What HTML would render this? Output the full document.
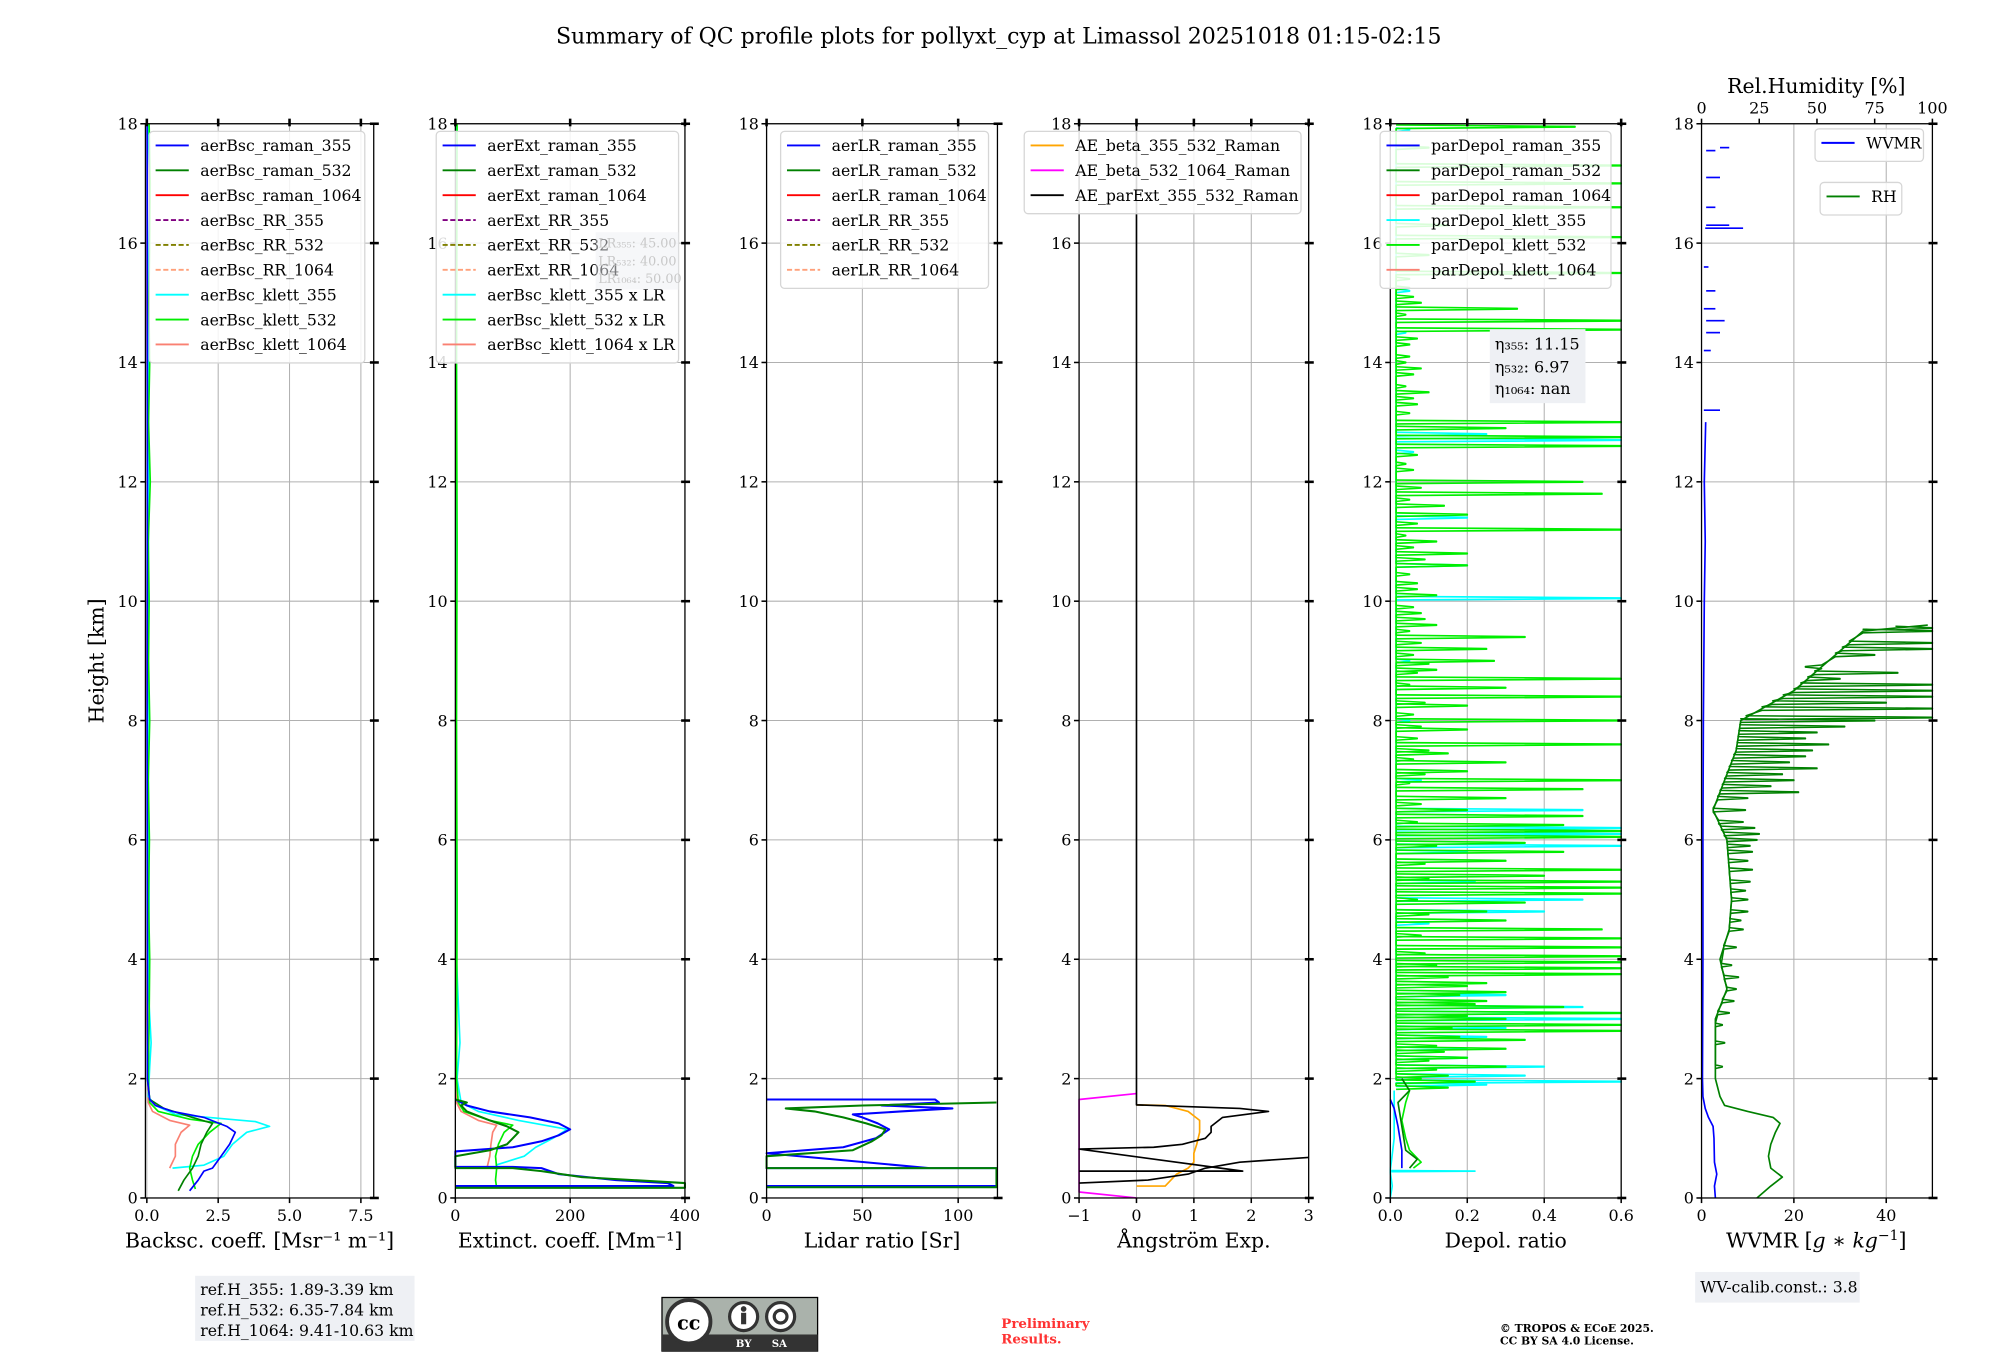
<!DOCTYPE html>
<html><head><meta charset="utf-8">
<style>
html,body{margin:0;padding:0;background:#fff;}
svg{display:block;}
text{font-family:"DejaVu Serif","Liberation Serif",serif;}
</style></head>
<body>
<svg id="fig" xmlns="http://www.w3.org/2000/svg" width="2000" height="1360" viewBox="0 0 1568 1066" preserveAspectRatio="none">
<rect x="0" y="0" width="1568" height="1066" fill="#fff"/>
<text x="783" y="34" font-size="17.3" text-anchor="middle">Summary of QC profile plots for pollyxt_cyp at Limassol 20251018 01:15-02:15</text>
<text x="0" y="0" font-size="16" text-anchor="middle" transform="translate(81,518) rotate(-90)">Height [km]</text>
<g id="plots"></g>

<g>
<rect x="153" y="1000" width="172" height="51" fill="#eef0f4"/>
<text x="157" y="1015" font-size="12.3">ref.H_355: 1.89-3.39 km</text>
<text x="157" y="1031" font-size="12.3">ref.H_532: 6.35-7.84 km</text>
<text x="157" y="1047" font-size="12.3">ref.H_1064: 9.41-10.63 km</text>
</g>
<g>
<rect x="519" y="1017" width="122" height="42" fill="#aab2ab" stroke="#000" stroke-width="1"/>
<rect x="519" y="1046" width="122" height="13" fill="#333"/>
<circle cx="540" cy="1036" r="17" fill="#fff" stroke="#333" stroke-width="3"/>
<text x="540" y="1042" font-size="15" font-weight="bold" text-anchor="middle" font-family="Liberation Sans">cc</text>
<circle cx="583" cy="1032" r="11" fill="#fff" stroke="#333" stroke-width="2.5"/>
<circle cx="583" cy="1026" r="2.2" fill="#333"/>
<rect x="581" y="1029" width="4" height="9" fill="#333"/>
<circle cx="612" cy="1032" r="11" fill="#fff" stroke="#333" stroke-width="2.5"/>
<circle cx="612" cy="1032" r="5" fill="none" stroke="#333" stroke-width="2.5"/>
<text x="583" y="1056" font-size="8" fill="#fff" text-anchor="middle" font-family="Liberation Sans" font-weight="bold">BY</text>
<text x="611" y="1056" font-size="8" fill="#fff" text-anchor="middle" font-family="Liberation Sans" font-weight="bold">SA</text>
</g>
<text x="785" y="1041" font-size="10.5" font-weight="bold" fill="#ff3333">Preliminary</text>
<text x="785" y="1053" font-size="10.5" font-weight="bold" fill="#ff3333">Results.</text>
<text x="1176" y="1044" font-size="8.5" font-weight="bold">© TROPOS &amp; ECoE 2025.</text>
<text x="1176" y="1054" font-size="8.5" font-weight="bold">CC BY SA 4.0 License.</text>
<g>
<rect x="1329" y="997" width="129" height="24" fill="#eef0f4"/>
<text x="1333" y="1013" font-size="12.3">WV-calib.const.: 3.8</text>
</g>
</svg>
<script>
// ---------- data ----------
const yTicks = [0,2,4,6,8,10,12,14,16,18];
// Panel 1 backscatter
const bscRaman355H = [0.12,0.3,0.45,0.5,0.7,0.9,1.1,1.2,1.35,1.45,1.55,1.65,2.0,4.0,8.0,12.0,18.0];
const bscRaman355V = [1.5,1.8,2.0,2.3,2.6,2.9,3.1,2.8,2.0,0.9,0.3,0.1,0.02,0.02,0.01,0.02,0.01];
const bscRaman532H = [0.12,0.3,0.5,0.7,0.9,1.1,1.25,1.35,1.5,1.65,2.0];
const bscRaman532V = [1.1,1.3,1.6,1.8,1.9,2.1,2.3,1.6,0.6,0.1,0.02];
const bscKlett355H = [0.5,0.55,0.7,0.9,1.1,1.2,1.28,1.4,1.55,1.7,2.2,2.6,3.5,5,8,12,15,17,18];
const bscKlett355V = [0.9,2.0,2.7,3.0,3.5,4.3,3.8,1.0,0.3,0.05,0.1,0.15,0.05,0.08,0.04,0.06,0.05,0.1,0.05];
const bscKlett532H = [0.15,0.3,0.5,0.7,0.9,1.1,1.25,1.32,1.45,1.6,2,3,4,5,6,7,8,9,10,11,12,13,14,15,16,17,18];
const bscKlett532V = [1.7,1.6,1.5,1.6,1.8,2.2,2.6,1.5,0.4,0.1,0.05,0.08,0.1,0.06,0.09,0.05,0.1,0.06,0.08,0.05,0.12,0.06,0.1,0.07,0.1,0.12,0.08];
const bscKlett1064H = [0.5,0.7,0.9,1.1,1.22,1.3,1.45,1.6,3,6,9,12,15,18];
const bscKlett1064V = [0.8,1.0,1.0,1.2,1.5,0.8,0.2,0.05,0.0,0.03,0.0,0.03,0.0,0.02];
// Panel 2 extinction
const extRaman355H = [0.2,0.2,0.25,0.3,0.35,0.4,0.5,0.52,0.52,0.78,0.85,0.95,1.05,1.15,1.25,1.35,1.45,1.55,1.65];
const extRaman355V = [0,380,370,280,230,180,150,100,0,0,100,150,180,200,180,130,60,20,0];
const extRaman532H = [0.17,0.17,0.25,0.35,0.45,0.5,0.5,0.7,0.8,0.9,1.0,1.1,1.2,1.3,1.45,1.55,1.6,1.65];
const extRaman532V = [0,400,400,220,150,100,0,0,60,90,100,110,90,60,20,10,20,0];
const extKlett355H = [0.55,0.7,0.85,1.0,1.15,1.3,1.45,1.6,2.0,2.6,4,8,12,18];
const extKlett355V = [70,120,140,170,195,110,40,10,3,8,2,1,2,1];
const extKlett532H = [0.17,0.3,0.5,0.7,0.9,1.1,1.22,1.3,1.45,1.6,2,5,8,11,14,18];
const extKlett532V = [72,70,72,70,75,85,100,60,15,5,2,3,2,3,2,3];
const extKlett1064H = [0.5,0.7,0.9,1.1,1.22,1.3,1.45,1.6,2];
const extKlett1064V = [55,60,62,65,72,40,10,2,0];
// Panel 3 lidar ratio
const lrRaman355H = [0.2,0.2,0.5,0.5,0.5,0.75,0.85,1.0,1.15,1.25,1.35,1.4,1.45,1.5,1.55,1.6,1.65,1.65];
const lrRaman355V = [0,120,120,0,85,0,40,57,64,58,50,45,70,97,60,90,88,0];
const lrRaman532H = [0.18,0.18,0.4,0.5,0.5,0.7,0.8,0.95,1.05,1.15,1.25,1.35,1.45,1.5,1.55,1.6];
const lrRaman532V = [0,120,120,120,0,0,45,55,60,62,52,40,25,10,50,120];
// Panel 4 Angstrom
const aeBsc355532H = [0.2,0.2,0.3,0.4,0.5,0.6,0.75,0.9,1.1,1.3,1.45,1.55,1.56];
const aeBsc355532V = [0,0.5,0.6,0.7,0.9,1.0,1.0,1.05,1.1,1.1,0.9,0.5,0];
const aeBsc5321064H = [0,0.1,1.65,1.75];
const aeBsc5321064V = [0,-1,-1,0];
const aeExtH = [0.25,0.3,0.4,0.5,0.6,0.68,0.68,0.45,0.45,0.82,0.85,0.9,1.0,1.1,1.2,1.35,1.45,1.5,1.56,18];
const aeExtV = [-1,0.2,0.9,1.2,1.8,3,null,-1,1.85,-1,0.3,0.8,1.2,1.3,1.3,1.5,2.3,1.8,0,0];
// Panel 5 depol
const dpRaman355H = [0.5,0.8,1.2,1.5,1.65];
const dpRaman355V = [0.03,0.03,0.02,0.01,0.0];
const dpRaman532H = [0.5,0.65,0.8,1.2,1.6,1.8,2.0];
const dpRaman532V = [0.05,0.07,0.04,0.03,0.02,0.05,0.03];
const dpKlett532LowH = [0.5,0.6,0.8,1.0,1.3,1.6,1.8];
const dpKlett532LowV = [0.06,0.08,0.05,0.04,0.03,0.04,0.05];
const dpKlett532SpikeH = [17.95,17.6,17.3,17.0,16.6,16.3,16.1,15.8,15.5,15.25,15.0,14.9,14.7,14.55,14.3,14.0,13.8,13.5,13.3,13.0,12.9,12.75,12.6,12.3,12.0,11.8,11.6,11.45,11.2,11.0,10.8,10.6,10.3,10.1,9.8,9.6,9.4,9.2,9.0,8.85,8.7,8.55,8.4,8.25,8.0,7.85,7.6,7.45,7.3,7.15,7.0,6.85,6.7,6.5,6.4,6.25,6.15,6.05,5.95,5.8,5.65,5.5,5.4,5.3,5.2,5.1,4.95,4.8,4.65,4.5,4.35,4.2,4.05,3.95,3.85,3.75,3.6,3.45,3.3,3.2,3.1,3.0,2.9,2.8,2.65,2.5,2.35,2.2,2.05,1.95,1.85];
const dpKlett532SpikeV = [0.48,0.1,0.6,0.6,0.6,0.15,0.6,0.1,0.6,0.05,0.08,0.33,0.6,0.6,0.05,0.04,0.06,0.1,0.07,0.6,0.3,0.6,0.6,0.04,0.5,0.55,0.14,0.2,0.6,0.12,0.2,0.2,0.07,0.12,0.08,0.12,0.35,0.25,0.27,0.12,0.6,0.3,0.6,0.2,0.6,0.2,0.6,0.15,0.3,0.2,0.6,0.5,0.3,0.2,0.5,0.45,0.6,0.6,0.35,0.45,0.3,0.6,0.4,0.6,0.6,0.6,0.35,0.25,0.3,0.55,0.6,0.6,0.6,0.6,0.6,0.6,0.25,0.3,0.25,0.45,0.6,0.3,0.6,0.6,0.35,0.3,0.2,0.3,0.15,0.22,0.15];
const dpKlett532NoiseH = [15.4,15.1,14.8,14.4,14.1,13.9,13.6,13.4,13.15,12.45,12.2,11.9,11.7,11.3,11.1,10.9,10.7,10.45,10.2,9.9,9.7,9.5,9.3,9.1,8.95,8.8,8.6,8.3,8.1,7.9,7.7,7.5,7.35,7.1,6.95,6.6,6.3,5.9,5.6,5.35,5.0,4.75,4.4,4.1,3.9,3.7,3.55,3.4,3.25,3.05,2.85,2.7,2.55,2.45,2.3,2.15,2.0];
const dpKlett532NoiseV = [0.05,0.06,0.04,0.07,0.05,0.08,0.04,0.06,0.05,0.07,0.06,0.08,0.05,0.07,0.04,0.06,0.09,0.05,0.07,0.06,0.09,0.05,0.08,0.06,0.1,0.07,0.05,0.09,0.06,0.08,0.07,0.1,0.06,0.09,0.05,0.08,0.07,0.12,0.09,0.1,0.07,0.1,0.08,0.09,0.12,0.15,0.2,0.18,0.22,0.2,0.16,0.18,0.12,0.14,0.1,0.12,0.08];
const dpKlett355LowH = [0.0,0.2,0.44,0.45,0.46,1.0,1.8];
const dpKlett355LowV = [0.0,0.005,0.0,0.22,0.0,0.01,0.01];
const dpKlett355SpikeH = [17.9,15.2,14.5,12.8,12.7,12.5,11.4,10.6,10.05,9.0,8.0,7.0,6.5,6.2,6.1,5.9,5.8,5.3,5.0,4.8,4.6,3.4,3.2,3.1,3.0,2.85,2.7,2.5,2.35,2.2,2.05,1.95,1.9];
const dpKlett355SpikeV = [0.05,0.05,0.04,0.25,0.6,0.06,0.2,0.2,0.6,0.05,0.05,0.08,0.5,0.6,0.6,0.6,0.2,0.22,0.5,0.4,0.1,0.3,0.5,0.6,0.6,0.3,0.25,0.2,0.2,0.4,0.35,0.6,0.25];
// Panel 6 WVMR / RH
const wvmrH = [0,0.2,0.4,0.6,1.0,1.2,1.35,1.5,1.7,2,4,6,8,10,11,12,13];
const wvmrV = [3,2.8,3.3,2.8,2.7,2.5,1.5,0.8,0.3,0.2,0.3,0.3,0.4,0.6,0.8,0.6,0.9];
const wvmrDashH = [13.2,14.2,14.5,14.7,14.9,15.2,15.6,16.25,16.3,16.6,17.1,17.55,17.6];
const wvmrDashA = [0.5,0.5,1,1,0.5,1,0.5,0.8,1,1,1,1,4];
const wvmrDashB = [4,2,4,5,3,3,1.5,9,6,3,4,3,6];
const rhH = [0,0.2,0.35,0.5,0.7,0.9,1.1,1.25,1.35,1.45,1.55,1.7,2.0,2.5,3.0,3.5,4.0,4.5,5.0,5.5,6.0,6.5,7.0,7.5,8.0,8.5,9.0,9.5,9.6];
const rhV = [24,30,35,30,29,30,32,34,31,20,10,8,6,6,6,11,8,12,13,12,11,5,10,15,17,40,55,70,98];
const rhSpikeH = [2.2,2.6,2.9,3.1,3.3,3.5,3.7,3.9,4.2,4.5,4.65,4.8,5.0,5.15,5.3,5.5,5.65,5.8,5.9,6.0,6.1,6.2,6.3,6.5,6.7,6.8,6.9,7.0,7.1,7.2,7.3,7.4,7.5,7.6,7.7,7.8,7.9,8.0,8.05,8.2,8.3,8.4,8.5,8.6,8.7,8.8,8.9,9.1,9.2,9.3,9.5,9.55];
const rhSpikeV = [9,10,9,12,14,15,16,13,15,18,17,20,20,19,21,22,20,22,21,24,25,23,18,19,20,42,30,40,35,50,38,45,48,55,45,50,62,75,100,100,80,100,100,100,60,85,45,75,100,100,100,100];
const rhTicks = [0,25,50,75,100];

// ---------- drawing ----------
const NS = 'http://www.w3.org/2000/svg';
const plots = document.getElementById('plots');
const Y0 = 939, Y1 = 97;
function ys(h){ return Y0 - h*(Y0-Y1)/18; }
function mk(tag, attrs, parent){
  const el = document.createElementNS(NS, tag);
  for (const k in attrs) el.setAttribute(k, attrs[k]);
  (parent||plots).appendChild(el);
  return el;
}
function interp(H, V, h){
  for (let i=0;i<H.length-1;i++){ if (h>=H[i] && h<=H[i+1]) { const t=(h-H[i])/(H[i+1]-H[i]); return V[i]+t*(V[i+1]-V[i]); } }
  return V[V.length-1];
}
const panels = [
  {name:'backscatter', x0:114, x1:293, min:-0.05, max:7.95, ticks:[0,2.5,5,7.5], labels:['0.0','2.5','5.0','7.5'], xlabel:'Backsc. coeff. [Msr⁻¹ m⁻¹]'},
  {name:'extinction', x0:357, x1:537, min:0, max:400, ticks:[0,200,400], labels:['0','200','400'], xlabel:'Extinct. coeff. [Mm⁻¹]'},
  {name:'lidar-ratio', x0:601, x1:782, min:0, max:120.5, ticks:[0,50,100], labels:['0','50','100'], xlabel:'Lidar ratio [Sr]'},
  {name:'angstrom', x0:846, x1:1026, min:-1, max:3, ticks:[-1,0,1,2,3], labels:['−1','0','1','2','3'], xlabel:'Ångström Exp.'},
  {name:'depol', x0:1090, x1:1271, min:0, max:0.6, ticks:[0,0.2,0.4,0.6], labels:['0.0','0.2','0.4','0.6'], xlabel:'Depol. ratio'},
  {name:'wvmr', x0:1334, x1:1515, min:0, max:50, ticks:[0,20,40], labels:['0','20','40'], xlabel:''}
];
function xsF(p){ return v => p.x0 + (v-p.min)/(p.max-p.min)*(p.x1-p.x0); }

panels.forEach(p => {
  const g = mk('g', {});
  
  
  const xs = xsF(p);
  p.ticks.forEach(t => {
    const gl = mk('line', {x1:xs(t), x2:xs(t), y1:Y1, y2:Y0, stroke:'#b0b0b0', 'stroke-width':0.8}, g);
    
    
  });
  yTicks.forEach(t => {
    const gl = mk('line', {x1:p.x0, x2:p.x1, y1:ys(t), y2:ys(t), stroke:'#b0b0b0', 'stroke-width':0.8}, g);
    
    
  });
  p.g = g; p.xs = xs;
});

function series(p, H, V, color, name, w){
  const xs = p.xs;
  let segs = [], cur = [];
  H.forEach((h,i) => { if (V[i]===null){ if(cur.length) segs.push(cur); cur=[]; } else cur.push(xs(V[i]).toFixed(2)+','+ys(h).toFixed(2)); });
  if (cur.length) segs.push(cur);
  segs.forEach(s => {
    const el = mk('polyline', {points:s.join(' '), fill:'none', stroke:color, 'stroke-width':w||1.3, 'stroke-linejoin':'round'}, p.g);
    
    
  });
}
function spikes(p, baseH, baseV, SH, SV, color, name, w){
  const H = [], V = [];
  const idx = SH.map((h,i)=>i).sort((a,b)=>SH[a]-SH[b]);
  idx.forEach(i => {
    const h = SH[i], b = baseH ? interp(baseH, baseV, h) : 0.015;
    H.push(h-0.03); V.push(b);
    H.push(h-0.005); V.push(SV[i]);
    H.push(h+0.005); V.push(SV[i]);
    H.push(h+0.03); V.push(b);
  });
  series(p, H, V, color, name, w);
}
const [P1,P2,P3,P4,P5,P6] = panels;
series(P1, bscKlett1064H, bscKlett1064V, '#fa8072', 'bsc-klett-1064-line');
series(P1, bscKlett355H, bscKlett355V, '#00ffff', 'bsc-klett-355-line');
series(P1, bscKlett532H, bscKlett532V, '#00ee00', 'bsc-klett-532-line');
series(P1, bscRaman532H, bscRaman532V, '#008000', 'bsc-raman-532-line');
series(P1, bscRaman355H, bscRaman355V, '#0000ff', 'bsc-raman-355-line');
series(P2, extKlett1064H, extKlett1064V, '#fa8072', 'ext-klett-1064-line');
series(P2, extKlett355H, extKlett355V, '#00ffff', 'ext-klett-355-line');
series(P2, extKlett532H, extKlett532V, '#00ee00', 'ext-klett-532-line');
series(P2, extRaman355H, extRaman355V, '#0000ff', 'ext-raman-355-line', 1.6);
series(P2, extRaman532H, extRaman532V, '#008000', 'ext-raman-532-line', 1.6);
series(P3, lrRaman355H, lrRaman355V, '#0000ff', 'lr-raman-355-line', 1.6);
series(P3, lrRaman532H, lrRaman532V, '#008000', 'lr-raman-532-line', 1.6);
series(P4, aeBsc355532H, aeBsc355532V, '#ffa500', 'ae-bsc-355-532-line');
series(P4, aeBsc5321064H, aeBsc5321064V, '#ff00ff', 'ae-bsc-532-1064-line');
series(P4, aeExtH, aeExtV, '#000000', 'ae-ext-355-532-line');
spikes(P5, null, null, dpKlett355SpikeH, dpKlett355SpikeV, '#00ffff', 'depol-klett-355-line', 1.3);
series(P5, dpKlett355LowH, dpKlett355LowV, '#00ffff', 'depol-klett-355-low-line');
spikes(P5, null, null, dpKlett532NoiseH, dpKlett532NoiseV, '#00ee00', 'depol-klett-532-noise-line', 1.2);
spikes(P5, null, null, dpKlett532SpikeH, dpKlett532SpikeV, '#00ee00', 'depol-klett-532-line', 1.3);
series(P5, dpKlett532LowH, dpKlett532LowV, '#00ee00', 'depol-klett-532-low-line');
series(P5, dpRaman532H, dpRaman532V, '#008000', 'depol-raman-532-line');
series(P5, dpRaman355H, dpRaman355V, '#0000ff', 'depol-raman-355-line');
const rhP = {x0:1334, x1:1515, min:0, max:100, g:P6.g};
rhP.xs = xsF(rhP);
spikes(rhP, rhH, rhV, rhSpikeH, rhSpikeV, '#008000', 'rh-spike-line', 1.2);
series(rhP, rhH, rhV, '#008000', 'rh-line', 1.3);
series(P6, wvmrH, wvmrV, '#0000ff', 'wvmr-line', 1.3);
wvmrDashH.forEach((h,i) => {
  const el = mk('line', {x1:P6.xs(wvmrDashA[i]), x2:P6.xs(wvmrDashB[i]), y1:ys(h), y2:ys(h), stroke:'#0000ff', 'stroke-width':1.3}, P6.g);
  
  
});

panels.forEach(p => {
  const g = p.g, xs = p.xs;
  const fr = mk('rect', {x:p.x0, y:Y1, width:p.x1-p.x0, height:Y0-Y1, fill:'none', stroke:'#000', 'stroke-width':1}, g);
  
  
  yTicks.forEach(t => {
    const tk = mk('line', {x1:p.x0-4, x2:p.x0, y1:ys(t), y2:ys(t), stroke:'#000', 'stroke-width':1.2}, g);
    
    
    const tr = mk('line', {x1:p.x1-3, x2:p.x1+4, y1:ys(t), y2:ys(t), stroke:'#000', 'stroke-width':2}, g);
    
    
    const tl = mk('text', {x:p.x0-6, y:ys(t)+4.5, 'font-size':12.5, 'text-anchor':'end'}, g);
    tl.textContent = String(t);
    
    
  });
  p.ticks.forEach((t,i) => {
    const tk = mk('line', {x1:xs(t), x2:xs(t), y1:Y0, y2:Y0+4, stroke:'#000', 'stroke-width':1.2}, g);
    
    
    if (p.name !== 'wvmr') {
      const tt = mk('line', {x1:xs(t), x2:xs(t), y1:Y1-4, y2:Y1+2, stroke:'#000', 'stroke-width':2}, g);
      
      
    }
    const tl = mk('text', {x:xs(t), y:Y0+18, 'font-size':12.5, 'text-anchor':'middle'}, g);
    tl.textContent = p.labels[i];
    
    
  });
  if (p.xlabel) {
    const xl = mk('text', {x:(p.x0+p.x1)/2, y:978, 'font-size':16, 'text-anchor':'middle'}, g);
    xl.textContent = p.xlabel;
    
    
  }
});
{
  const xl = mk('text', {x:1424, y:978, 'font-size':16, 'text-anchor':'middle'}, P6.g);
  xl.innerHTML = 'WVMR [<tspan font-style="italic">g</tspan> ∗ <tspan font-style="italic">kg</tspan><tspan font-size="11" dy="-6">−1</tspan><tspan dy="6">]</tspan>';
  
  
  rhTicks.forEach(t => {
    const tt = mk('line', {x1:rhP.xs(t), x2:rhP.xs(t), y1:Y1-4, y2:Y1, stroke:'#000', 'stroke-width':1.2}, P6.g);
    
    
    const tl = mk('text', {x:rhP.xs(t), y:Y1-8, 'font-size':12.5, 'text-anchor':'middle'}, P6.g);
    tl.textContent = String(t);
    
    
  });
  const rt = mk('text', {x:1424, y:73, 'font-size':16, 'text-anchor':'middle'}, P6.g);
  rt.textContent = 'Rel.Humidity [%]';
  
  
}

function legend(x, y, w, entries, name){
  const lg = mk('g', {});
  
  
  mk('rect', {x:x, y:y, width:w, height:entries.length*19.5+6, rx:3, fill:'#fff', 'fill-opacity':0.85, stroke:'#d6d6d6', 'stroke-width':1}, lg);
  entries.forEach((e,i) => {
    const cy = y + 11 + i*19.5;
    const ln = mk('line', {x1:x+5, x2:x+31, y1:cy, y2:cy, stroke:e[1], 'stroke-width':1.5, 'stroke-dasharray':e[2]?'4,2':'none'}, lg);
    
    
    const tx = mk('text', {x:x+40, y:cy+4.5, 'font-size':12.3}, lg);
    tx.textContent = e[0];
    
    
  });
}
const std9 = ['#0000ff','#008000','#ff0000','#800080','#808000','#ffa07a','#00ffff','#00ee00','#fa8072'];
const dash9 = [0,0,0,1,1,1,0,0,0];
legend(117,103,169,['aerBsc_raman_355','aerBsc_raman_532','aerBsc_raman_1064','aerBsc_RR_355','aerBsc_RR_532','aerBsc_RR_1064','aerBsc_klett_355','aerBsc_klett_532','aerBsc_klett_1064'].map((n,i)=>[n,std9[i],dash9[i]]),'backscatter-legend');
legend(342,103,190,['aerExt_raman_355','aerExt_raman_532','aerExt_raman_1064','aerExt_RR_355','aerExt_RR_532','aerExt_RR_1064','aerBsc_klett_355 x LR','aerBsc_klett_532 x LR','aerBsc_klett_1064 x LR'].map((n,i)=>[n,std9[i],dash9[i]]),'extinction-legend');
legend(612,103,163,['aerLR_raman_355','aerLR_raman_532','aerLR_raman_1064','aerLR_RR_355','aerLR_RR_532','aerLR_RR_1064'].map((n,i)=>[n,std9[i],dash9[i]]),'lidar-ratio-legend');
legend(803,103,217,[['AE_beta_355_532_Raman','#ffa500',0],['AE_beta_532_1064_Raman','#ff00ff',0],['AE_parExt_355_532_Raman','#000000',0]],'angstrom-legend');
legend(1082,103,181,[['parDepol_raman_355','#0000ff',0],['parDepol_raman_532','#008000',0],['parDepol_raman_1064','#ff0000',0],['parDepol_klett_355','#00ffff',0],['parDepol_klett_532','#00ee00',0],['parDepol_klett_1064','#fa8072',0]],'depol-legend');
legend(1423,101,85,[['WVMR','#0000ff',0]],'wvmr-legend');
legend(1427,143,64,[['RH','#008000',0]],'rh-legend');

{
  const b = mk('g', {});
  
  
  mk('rect', {x:467, y:182, width:65, height:45, fill:'#eef0f4', 'fill-opacity':0.5}, b);
  [['LR₃₅₅: 45.00',194],['LR₅₃₂: 40.00',208],['LR₁₀₆₄: 50.00',222]].forEach(a => {
    const t = mk('text', {x:469, y:a[1], 'font-size':10, fill:'#c8c8c8'}, b);
    t.textContent = a[0];
  });
}
{
  const b = mk('g', {});
  
  
  mk('rect', {x:1168, y:258, width:75, height:58, fill:'#eef0f4'}, b);
  [['η₃₅₅: 11.15',274],['η₅₃₂: 6.97',292],['η₁₀₆₄: nan',309]].forEach(a => {
    const t = mk('text', {x:1172, y:a[1], 'font-size':12.5}, b);
    t.textContent = a[0];
  });
}
</script>
</body></html>
